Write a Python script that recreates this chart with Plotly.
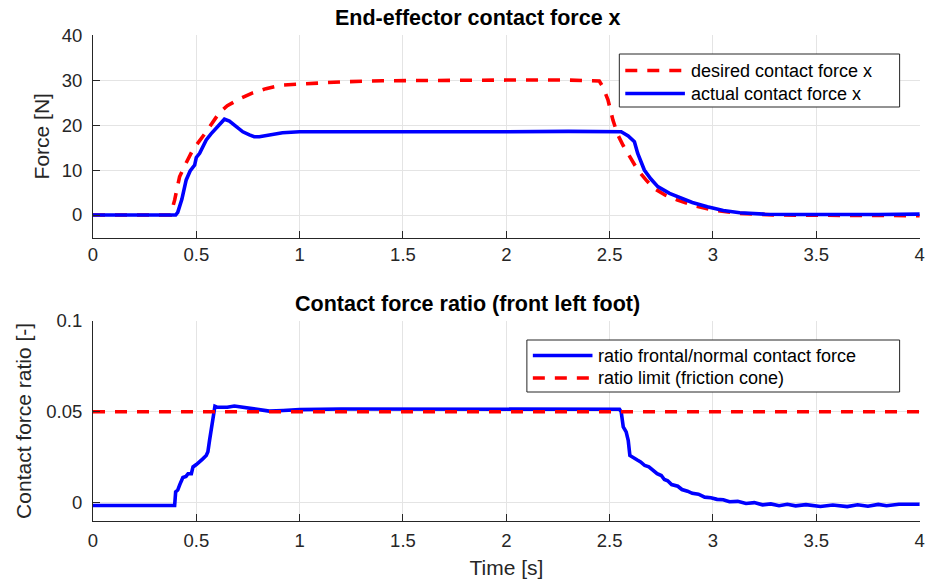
import plotly.graph_objects as go

# ---------------- data ----------------
x_ticks = [0, 0.5, 1, 1.5, 2, 2.5, 3, 3.5, 4]
x_tick_labels = ["0", "0.5", "1", "1.5", "2", "2.5", "3", "3.5", "4"]
force_ticks = [0, 10, 20, 30, 40]
force_tick_labels = ["0", "10", "20", "30", "40"]
ratio_ticks = [0, 0.05, 0.1]
ratio_tick_labels = ["0", "0.05", "0.1"]

# desired contact force x [N]
t_desired = [0, 0.375, 0.395, 0.419, 0.45, 0.483, 0.548, 0.612, 0.65, 0.708,
             0.77, 0.837, 0.917, 1.046, 1.2, 1.4, 1.6, 2.0, 2.3, 2.42,
             2.45, 2.467, 2.492, 2.516, 2.54, 2.565, 2.588, 2.636, 2.68, 2.716,
             2.77, 2.829, 2.9, 3.0, 3.13, 3.3, 3.5, 3.7, 3.85, 4.0]
f_desired = [0, 0, 3.3, 8.5, 11.5, 14.5, 18.5, 22.8, 24.3, 25.8,
             27.1, 28.1, 28.9, 29.3, 29.6, 29.85, 29.95, 30, 30, 30,
             29.8, 28.5, 25.6, 21.1, 17.8, 15.5, 13.7, 10, 7.6, 5.9,
             4.4, 3.3, 2.2, 1.1, 0.37, 0.0, -0.05, -0.1, -0.15, -0.15]

# actual contact force x [N]
t_actual = [0, 0.40, 0.41, 0.43, 0.451, 0.47, 0.492, 0.50, 0.516, 0.53,
            0.548, 0.57, 0.596, 0.615, 0.636, 0.66, 0.692, 0.725, 0.757, 0.78,
            0.805, 0.85, 0.917, 1.0, 1.2, 1.5, 2.0, 2.3, 2.5, 2.556,
            2.59, 2.62, 2.636, 2.668, 2.7, 2.733, 2.79, 2.845, 2.9, 2.973,
            3.05, 3.13, 3.25, 3.4, 3.6, 3.8, 4.0]
f_actual = [0, 0, 0.6, 3.5, 7.8, 9.8, 11.1, 12.8, 13.7, 15.2,
            16.7, 18.0, 19.3, 20.5, 21.3, 20.9, 19.6, 18.5, 17.8, 17.4,
            17.4, 17.8, 18.3, 18.5, 18.5, 18.4, 18.5, 18.6, 18.6, 18.5,
            17.6, 16.3, 13.7, 10, 8, 6.3, 4.8, 3.7, 2.8, 1.85,
            1.0, 0.5, 0.2, 0.1, 0.0, 0.1, 0.2]

# ratio frontal / normal contact force [-]
t_ratio = [0, 0.395, 0.40, 0.41, 0.42, 0.435, 0.45, 0.46, 0.476, 0.484,
           0.50, 0.516, 0.53, 0.548, 0.556, 0.564, 0.572, 0.58, 0.59, 0.60,
           0.65, 0.684, 0.72, 0.757, 0.80, 0.853, 0.92, 1.0, 1.2, 1.5,
           2.0, 2.3, 2.548, 2.556, 2.566, 2.58, 2.59, 2.598, 2.61, 2.636,
           2.65, 2.67, 2.69, 2.716, 2.73, 2.75, 2.765, 2.781, 2.80, 2.83,
           2.85, 2.877, 2.90, 2.93, 2.96, 2.99, 3.02, 3.05, 3.08, 3.12,
           3.16, 3.2, 3.24, 3.28, 3.32, 3.36, 3.4, 3.45, 3.52, 3.58,
           3.65, 3.70, 3.75, 3.80, 3.84, 3.90, 4.0]
r_ratio = [-0.0015, -0.0015, 0.006, 0.007, 0.010, 0.0139, 0.0145, 0.016, 0.016, 0.0197,
           0.021, 0.0224, 0.024, 0.026, 0.028, 0.0343, 0.040, 0.047, 0.053, 0.0525,
           0.0525, 0.0532, 0.0525, 0.0518, 0.051, 0.0504, 0.0507, 0.0512, 0.0515, 0.0515,
           0.0516, 0.0515, 0.0514, 0.050, 0.0417, 0.039, 0.0343, 0.026, 0.025, 0.0234,
           0.0225, 0.0205, 0.0198, 0.0172, 0.0160, 0.0150, 0.0128, 0.0121, 0.0100, 0.0091,
           0.0073, 0.0064, 0.0052, 0.0047, 0.0031, 0.0028, 0.0019, 0.0017, 0.0006, 0.0008,
           -0.0004, 0.0001, -0.0011, -0.0006, -0.0016, -0.0008, -0.0017, -0.0010, -0.0020, -0.0012,
           -0.0021, -0.0011, -0.0019, -0.0009, -0.0016, -0.0008, -0.0008]

# ratio limit (friction cone)
t_limit = [0, 4]
r_limit = [0.05, 0.05]

# ---------------- figure ----------------
FONT = "Liberation Sans, Arial, Helvetica, sans-serif"
AX = "#262626"
RED = "#ff0000"
BLUE = "#0000ff"
DASH = "12px,10px"
LW = 3.6

W, H = 926, 586
ML, MR, MT, MB = 92.5, 1.5, 35, 65
PW, PH = W - ML - MR, H - MT - MB


def px_x(px):
    return (px - ML) / PW


def px_y(py):
    return (H - MB - py) / PH


fig = go.Figure()
fig.add_trace(go.Scatter(x=t_desired, y=f_desired, mode="lines",
                         name="desired contact force x",
                         line=dict(color=RED, width=LW, dash=DASH),
                         xaxis="x", yaxis="y"))
fig.add_trace(go.Scatter(x=t_actual, y=f_actual, mode="lines",
                         name="actual contact force x",
                         line=dict(color=BLUE, width=LW),
                         xaxis="x", yaxis="y"))
fig.add_trace(go.Scatter(x=t_ratio, y=r_ratio, mode="lines",
                         name="ratio frontal/normal contact force",
                         line=dict(color=BLUE, width=LW),
                         xaxis="x2", yaxis="y2"))
fig.add_trace(go.Scatter(x=t_limit, y=r_limit, mode="lines",
                         name="ratio limit (friction cone)",
                         line=dict(color=RED, width=LW, dash=DASH),
                         xaxis="x2", yaxis="y2"))

common = dict(showline=True, linecolor=AX, linewidth=1, mirror=False,
              ticks="inside", ticklen=7, tickwidth=1, tickcolor=AX,
              showgrid=True, gridcolor="#e4e4e4", gridwidth=1, zeroline=False,
              ticklabeloverflow="allow",
              tickfont=dict(family=FONT, size=18.5, color=AX))

top_dom = [px_y(237.5), 1.0]
bot_dom = [0.0, px_y(320.7)]
xr = [0, 4.002]

fig.update_layout(
    width=W, height=H,
    margin=dict(l=ML, r=MR, t=MT, b=MB),
    paper_bgcolor="white", plot_bgcolor="white",
    font=dict(family=FONT, color=AX),
    showlegend=False,
    xaxis=dict(domain=[0, 1], anchor="y", range=xr,
               tickvals=x_ticks, ticktext=x_tick_labels, **common),
    yaxis=dict(domain=top_dom, anchor="x", range=[-5, 40.02],
               tickvals=force_ticks, ticktext=force_tick_labels,
               ticklabelstandoff=6,
               title=dict(text="Force [N]", font=dict(family=FONT, size=21, color=AX), standoff=6),
               **common),
    xaxis2=dict(domain=[0, 1], anchor="y2", range=xr,
                tickvals=x_ticks, ticktext=x_tick_labels,
                ticklabelstandoff=3,
                title=dict(text="Time [s]", font=dict(family=FONT, size=21, color=AX), standoff=10),
                **common),
    yaxis2=dict(domain=bot_dom, anchor="x2", range=[-0.01, 0.10005],
                tickvals=ratio_ticks, ticktext=ratio_tick_labels,
                ticklabelstandoff=6,
                title=dict(text="Contact force ratio [-]", font=dict(family=FONT, size=21, color=AX), standoff=8),
                **common),
)

annotations = [
    dict(text="<b>End-effector contact force x</b>", xref="paper", yref="paper",
         x=px_x(480), y=top_dom[1], xanchor="center", yanchor="bottom", yshift=3,
         showarrow=False, font=dict(family=FONT, size=21.5, color="#000000")),
    dict(text="<b>Contact force ratio (front left foot)</b>", xref="paper", yref="paper",
         x=px_x(469), y=bot_dom[1], xanchor="center", yanchor="bottom", yshift=3,
         showarrow=False, font=dict(family=FONT, size=21.5, color="#000000")),
]
shapes = []

# legends (box, line samples, labels) drawn in paper coordinates
legend_specs = [
    # (box left, box top, box right, box bottom, sample start, [(row y, label, color, dash)])
    (622, 54, 904, 107, 628, [(70.5, "desired contact force x", RED, DASH),
                              (93.5, "actual contact force x", BLUE, "solid")]),
    (529, 340, 904, 392, 535, [(355.5, "ratio frontal/normal contact force", BLUE, "solid"),
                               (378.0, "ratio limit (friction cone)", RED, DASH)]),
]
for bx0, by0, bx1, by1, sx, rows in legend_specs:
    shapes.append(dict(type="rect", xref="paper", yref="paper", layer="above",
                       x0=px_x(bx0), x1=px_x(bx1), y0=px_y(by1), y1=px_y(by0),
                       line=dict(color=AX, width=1), fillcolor="white"))
    for ry, label, color, dash in rows:
        shapes.append(dict(type="line", xref="paper", yref="paper", layer="above",
                           x0=px_x(sx), x1=px_x(sx + 60), y0=px_y(ry), y1=px_y(ry),
                           line=dict(color=color, width=LW, dash=dash)))
        annotations.append(dict(text=label, xref="paper", yref="paper",
                                x=px_x(sx + 64), y=px_y(ry), xanchor="left", yanchor="middle",
                                showarrow=False,
                                font=dict(family=FONT, size=18, color="#000000")))

fig.update_layout(annotations=annotations, shapes=shapes)

fig.write_html("out.html")
